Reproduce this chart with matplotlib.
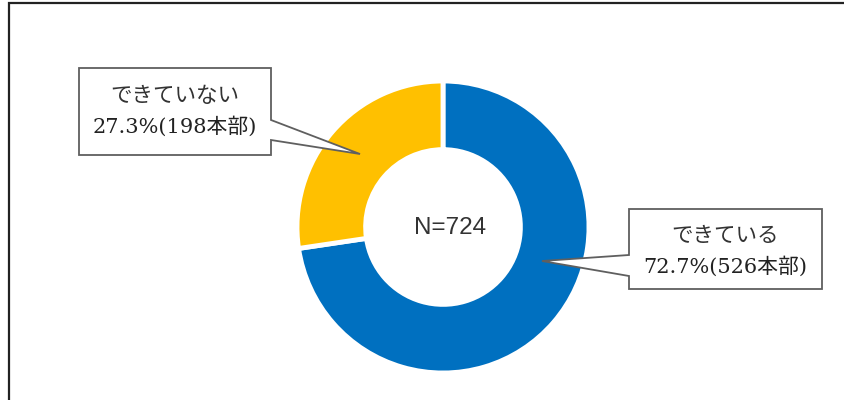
import matplotlib
matplotlib.use("Agg")
import matplotlib.pyplot as plt
from matplotlib.patches import Polygon
from matplotlib.lines import Line2D

# ---- data ----
labels = ["できている", "できていない"]
counts = [526, 198]
percents = [72.7, 27.3]
colors = ["#0070C0", "#FFC000"]
unit = "本部"
total = sum(counts)

W, H = 844, 400
fig = plt.figure(figsize=(W / 100, H / 100), dpi=100)
fig.patch.set_facecolor("white")

# ---- donut ----
cx, cy, R = 443, 227, 146
ax = fig.add_axes([(cx - R) / W, (H - cy - R) / H, 2 * R / W, 2 * R / H])
wedges, _ = ax.pie(counts, colors=colors, startangle=90, counterclock=False,
                   radius=1.0,
                   wedgeprops=dict(width=0.47, edgecolor="white", linewidth=3.5))
for w in wedges:
    w.set_clip_on(False)
ax.set_xlim(-1, 1)
ax.set_ylim(-1, 1)
ax.set_aspect("equal")
ax.axis("off")
ax.text(0.05, -0.01, f"N={total}", ha="center", va="center",
        fontsize=17.5, family=["Liberation Sans", "Noto Sans CJK JP"], color="#333333")

# ---- overlay in pixel coordinates ----
ov = fig.add_axes([0, 0, 1, 1], zorder=5)
ov.set_xlim(0, W)
ov.set_ylim(H, 0)
ov.axis("off")
ov.patch.set_alpha(0)

# frame (left + top)
ov.add_line(Line2D([8.5, 8.5, W], [H, 2.5, 2.5], color="#222222", lw=1.6,
                   solid_joinstyle="miter"))

lab_font = ["DejaVu Serif", "Noto Sans CJK JP"]
edge = "#5f5f5f"

# callout: できていない (left)
left_poly = [(79, 68), (271, 68), (271, 120), (360, 154), (271, 140),
             (271, 155), (79, 155)]
ov.add_patch(Polygon(left_poly, closed=True, facecolor="white", edgecolor=edge,
                     lw=1.3, joinstyle="miter"))
ov.text(175, 96, labels[1], ha="center", va="center", fontsize=15.5,
        family=lab_font, color="#333333")
ov.text(175, 126, f"{percents[1]}%({counts[1]}{unit})", ha="center", va="center",
        fontsize=15, family=lab_font, color="#222222")

# callout: できている (right)
right_poly = [(629, 209), (822, 209), (822, 289), (629, 289), (629, 276),
              (542, 261), (629, 255)]
ov.add_patch(Polygon(right_poly, closed=True, facecolor="white", edgecolor=edge,
                     lw=1.3, joinstyle="miter"))
ov.text(725, 236, labels[0], ha="center", va="center", fontsize=15.5,
        family=lab_font, color="#333333")
ov.text(725, 266, f"{percents[0]}%({counts[0]}{unit})", ha="center", va="center",
        fontsize=15, family=lab_font, color="#222222")

fig.savefig("out.png", dpi=100, facecolor="white")
